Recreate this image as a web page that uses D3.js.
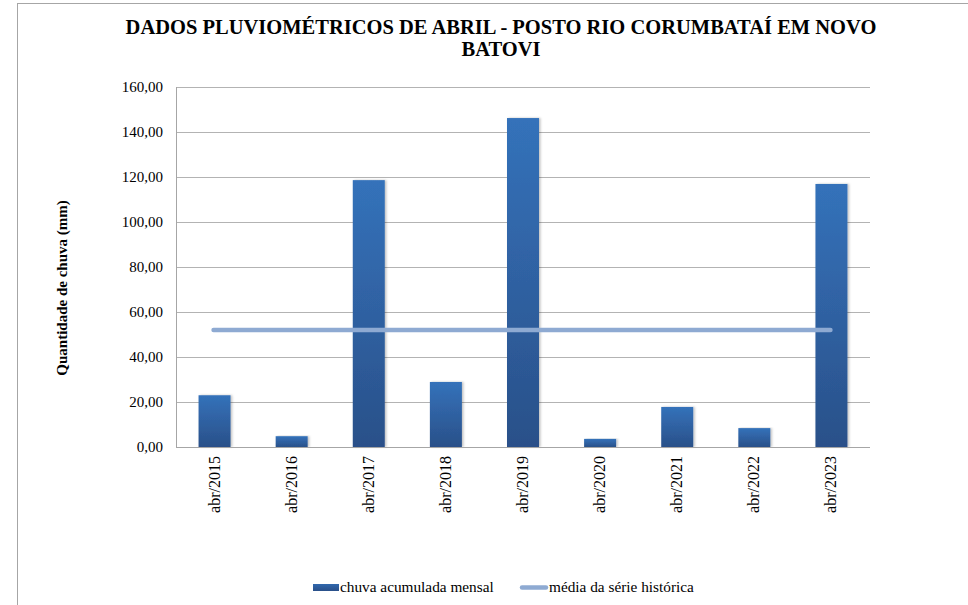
<!DOCTYPE html>
<html>
<head>
<meta charset="utf-8">
<script src="https://cdn.jsdelivr.net/npm/d3@7"></script>
<style>
  body { margin: 0; background: #fff; }
  text { font-family: 'Liberation Serif', 'DejaVu Serif', serif; }
</style>
</head>
<body>
<div id="chart"></div>
<script>
// April rainfall data
const categories = ['abr/2015', 'abr/2016', 'abr/2017', 'abr/2018', 'abr/2019',
                    'abr/2020', 'abr/2021', 'abr/2022', 'abr/2023'];
const rainValues = [23.0, 4.8, 118.6, 28.9, 146.2, 3.6, 17.8, 8.4, 116.9];
const meanValue = 52.0;
const yTicks = [0, 20, 40, 60, 80, 100, 120, 140, 160];

const width = 968, height = 605;
const margin = { top: 87, right: 98, bottom: 158, left: 176 };
const FONT = "'Liberation Serif', 'DejaVu Serif', serif";

const svg = d3.select('#chart')
    .append('svg')
    .attr('width', width)
    .attr('height', height)
    .attr('font-family', FONT);

// outer chart border (cropped at right/bottom)
svg.append('rect')
    .attr('x', 17.5).attr('y', 3.5)
    .attr('width', width + 20).attr('height', height + 20)
    .attr('fill', 'none')
    .attr('stroke', '#a6a6a6')
    .attr('stroke-width', 1);

const defs = svg.append('defs');
const grad = defs.append('linearGradient')
    .attr('id', 'barGrad')
    .attr('x1', 0).attr('y1', 0).attr('x2', 0).attr('y2', 1);
grad.append('stop').attr('offset', '0%').attr('stop-color', '#3472ba');
grad.append('stop').attr('offset', '100%').attr('stop-color', '#2a5089');

const legGrad = defs.append('linearGradient')
    .attr('id', 'legGrad')
    .attr('x1', 0).attr('y1', 0).attr('x2', 0).attr('y2', 1);
legGrad.append('stop').attr('offset', '0%').attr('stop-color', '#3168ad');
legGrad.append('stop').attr('offset', '100%').attr('stop-color', '#2a5089');

const shadow = defs.append('filter').attr('id', 'shadow')
    .attr('x', '-20%').attr('y', '-5%').attr('width', '140%').attr('height', '110%');
shadow.append('feDropShadow')
    .attr('dx', 1.5).attr('dy', 0).attr('stdDeviation', 1)
    .attr('flood-color', '#000').attr('flood-opacity', 0.25);

const innerW = width - margin.left - margin.right;
const innerH = height - margin.top - margin.bottom;

const x = d3.scaleBand()
    .domain(categories)
    .range([0, innerW])
    .paddingInner(0.585)
    .paddingOuter(0.2925);

const y = d3.scaleLinear()
    .domain([0, 160])
    .range([innerH, 0]);

const g = svg.append('g').attr('transform', `translate(${margin.left},${margin.top})`);

// gridlines
g.selectAll('.grid')
    .data(yTicks)
    .enter()
    .append('line')
    .attr('x1', 0).attr('x2', innerW)
    .attr('y1', d => Math.round(y(d)) + 0.5)
    .attr('y2', d => Math.round(y(d)) + 0.5)
    .attr('stroke', '#b3b3b3')
    .attr('stroke-width', 1);

// left axis line
g.append('line')
    .attr('x1', 0.5).attr('x2', 0.5)
    .attr('y1', 0).attr('y2', innerH)
    .attr('stroke', '#a6a6a6');

// y tick labels
g.selectAll('.ytick')
    .data(yTicks)
    .enter()
    .append('text')
    .attr('x', -13)
    .attr('y', d => y(d))
    .attr('dy', '0.35em')
    .attr('text-anchor', 'end')
    .attr('font-size', '15px')
    .attr('fill', '#000')
    .text(d => d3.format('.2f')(d).replace('.', ','));

// bars
g.selectAll('.bar')
    .data(categories)
    .enter()
    .append('rect')
    .attr('x', d => x(d))
    .attr('y', (d, i) => y(rainValues[i]))
    .attr('width', x.bandwidth())
    .attr('height', (d, i) => innerH - y(rainValues[i]))
    .attr('fill', 'url(#barGrad)')
    .attr('filter', 'url(#shadow)');

// bottom axis line
g.append('line')
    .attr('x1', 0).attr('x2', innerW)
    .attr('y1', innerH + 0.5).attr('y2', innerH + 0.5)
    .attr('stroke', '#a6a6a6');

// mean line
const xc = d => x(d) + x.bandwidth() / 2;
g.append('line')
    .attr('x1', xc(categories[0]) - 1)
    .attr('x2', xc(categories[categories.length - 1]) - 1)
    .attr('y1', y(meanValue))
    .attr('y2', y(meanValue))
    .attr('stroke', '#8eaad2')
    .attr('stroke-width', 4.5)
    .attr('stroke-linecap', 'round');

// x labels rotated
g.selectAll('.xlab')
    .data(categories)
    .enter()
    .append('text')
    .attr('transform', d => `translate(${xc(d) + 5},${innerH + 9}) rotate(-90)`)
    .attr('text-anchor', 'end')
    .attr('font-size', '16px')
    .attr('fill', '#000')
    .text(d => d);

// title
const title = svg.append('text')
    .attr('text-anchor', 'middle')
    .attr('font-size', '20.5px')
    .attr('font-weight', 'bold')
    .attr('fill', '#000');
title.append('tspan').attr('x', 501).attr('y', 34)
    .text('DADOS PLUVIOMÉTRICOS DE ABRIL - POSTO RIO CORUMBATAÍ EM NOVO');
title.append('tspan').attr('x', 501).attr('y', 56)
    .text('BATOVI');

// y axis title
svg.append('text')
    .attr('transform', 'translate(67,288) rotate(-90)')
    .attr('text-anchor', 'middle')
    .attr('font-size', '15px')
    .attr('font-weight', 'bold')
    .attr('fill', '#000')
    .text('Quantidade de chuva (mm)');

// legend
const leg = svg.append('g');
leg.append('rect')
    .attr('x', 313).attr('y', 584)
    .attr('width', 26).attr('height', 7)
    .attr('fill', 'url(#legGrad)');
leg.append('text')
    .attr('x', 340).attr('y', 592)
    .attr('font-size', '15.3px')
    .text('chuva acumulada mensal');
leg.append('line')
    .attr('x1', 522).attr('x2', 546)
    .attr('y1', 587.5).attr('y2', 587.5)
    .attr('stroke', '#8eaad2')
    .attr('stroke-width', 4.5)
    .attr('stroke-linecap', 'round');
leg.append('text')
    .attr('x', 549).attr('y', 592)
    .attr('font-size', '15.3px')
    .text('média da série histórica');
</script>
</body>
</html>
